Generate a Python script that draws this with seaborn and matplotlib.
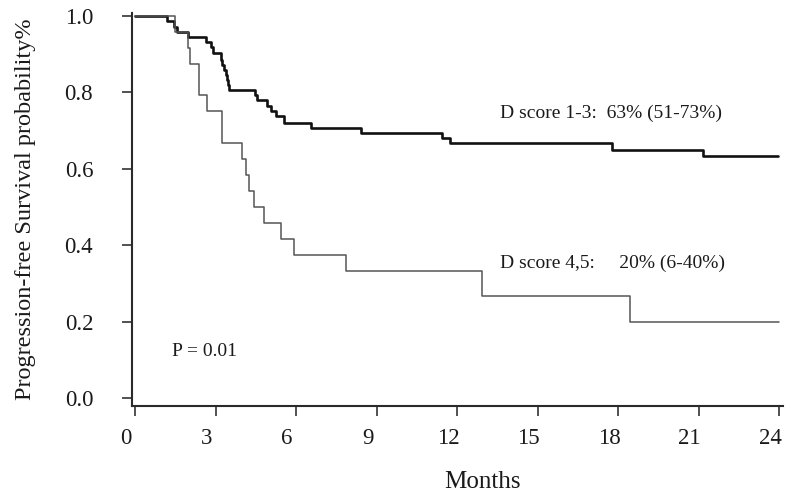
import matplotlib
matplotlib.use("Agg")
import matplotlib.pyplot as plt
import matplotlib.transforms as mtransforms
import numpy as np
import pandas as pd
import seaborn as sns

# ---- data ----
low_score_months = [0, 1.18, 1.45, 1.56, 1.96, 2.64, 2.83, 2.89, 3.20, 3.26, 3.32, 3.38,
                    3.42, 3.46, 3.51, 4.46, 4.56, 4.93, 5.06, 5.24, 5.55, 6.54, 8.43,
                    11.44, 11.75, 17.78, 21.14, 23.95]
low_score_surv = [1.0, 0.986, 0.972, 0.959, 0.945, 0.932, 0.918, 0.902, 0.886, 0.872, 0.859,
                  0.846, 0.832, 0.819, 0.806, 0.793, 0.780, 0.764, 0.751, 0.738, 0.721,
                  0.708, 0.694, 0.680, 0.667, 0.650, 0.634, 0.634]

high_score_months = [0, 1.49, 1.96, 2.05, 2.38, 2.69, 3.23, 3.97, 4.12, 4.25, 4.43, 4.80,
                     5.44, 5.92, 7.85, 12.91, 18.44, 23.98]
high_score_surv = [1.0, 0.958, 0.917, 0.875, 0.792, 0.750, 0.667, 0.625, 0.583, 0.542,
                   0.500, 0.458, 0.417, 0.375, 0.333, 0.267, 0.200, 0.200]

x_ticks = [0, 3, 6, 9, 12, 15, 18, 21, 24]
y_ticks = [0.0, 0.2, 0.4, 0.6, 0.8, 1.0]

label_low = "D score 1-3:  63% (51-73%)"
label_high = "D score 4,5:     20% (6-40%)"
p_text = "P = 0.01"

# ---- figure ----
sns.set_theme(style="ticks")
plt.rcParams["font.family"] = ["Liberation Serif", "DejaVu Serif"]

fig = plt.figure(figsize=(8.0, 4.99), dpi=100)
ax = fig.add_axes([0.1646, 0.1864, 0.9788 - 0.1646, 0.9733 - 0.1864])

df_low = pd.DataFrame({"Months": low_score_months, "Survival": low_score_surv})
df_high = pd.DataFrame({"Months": high_score_months, "Survival": high_score_surv})

sns.lineplot(data=df_low, x="Months", y="Survival", ax=ax, estimator=None, sort=False,
             drawstyle="steps-post", color="#111111", linewidth=1.9)
sns.lineplot(data=df_high, x="Months", y="Survival", ax=ax, estimator=None, sort=False,
             drawstyle="steps-post", color="#555555", linewidth=1.1)

ax.set_xlim(-0.123, 24.14)
ax.set_ylim(-0.021, 1.007)
ax.set_xticks(x_ticks)
ax.set_xticklabels([str(v) for v in x_ticks])
ax.set_yticks(y_ticks)
ax.set_yticklabels([f"{v:.1f}" for v in y_ticks])

for side in ["top", "right"]:
    ax.spines[side].set_visible(False)
for side in ["left", "bottom"]:
    ax.spines[side].set_color("#2a2a2a")
    ax.spines[side].set_linewidth(1.5)

ax.tick_params(axis="both", direction="out", length=7.2, width=1.2, color="#333333",
               labelsize=16.5, labelcolor="#1a1a1a")
ax.tick_params(axis="y", pad=20.5)
ax.tick_params(axis="x", pad=8.5)

offset = mtransforms.ScaledTranslation(-9 / 100, 0, fig.dpi_scale_trans)
for lbl in ax.get_xticklabels():
    lbl.set_transform(lbl.get_transform() + offset)

ax.set_xlabel("Months", fontsize=18, color="#1a1a1a")
ax.set_ylabel("Progression-free Survival probability%", fontsize=17.5, color="#1a1a1a")
ax.xaxis.set_label_coords(0.539, -0.166)
ax.yaxis.set_label_coords(-0.147, 0.5)

def ax_x(px):
    return (px - 131.7) / 651.3

def ax_y(py):
    return 1 - (py - 13.3) / (406 - 13.3)

ax.text(ax_x(500), ax_y(113), label_low, transform=ax.transAxes, ha="left", va="center",
        fontsize=14, color="#1a1a1a")
ax.text(ax_x(500), ax_y(263), label_high, transform=ax.transAxes, ha="left", va="center",
        fontsize=14, color="#1a1a1a")
ax.text(ax_x(172), ax_y(352), p_text, transform=ax.transAxes, ha="left", va="center",
        fontsize=14, color="#1a1a1a")

fig.savefig("out.png", dpi=100)
